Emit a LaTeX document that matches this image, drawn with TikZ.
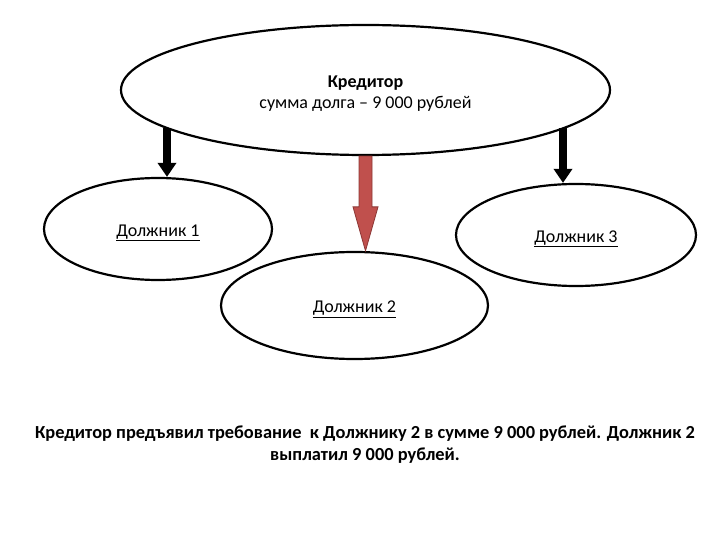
\documentclass[tikz,border=0pt]{standalone}
\usepackage{fontspec}
\setmainfont{Carlito}
\usetikzlibrary{arrows.meta,calc,shapes.geometric}
\definecolor{redfill}{HTML}{C0504D}
\definecolor{redline}{HTML}{8C3836}
\newcommand{\lowered}[1]{\raisebox{-4pt}[\height][\depth]{#1}}
\begin{document}
\begin{tikzpicture}[x=1pt,y=-1pt,
		oval/.style={draw, ellipse, line width=2.2pt, inner sep=0pt, font=\fontsize{18}{21}\selectfont},
		blackarrow/.style={line width=8pt, -{Triangle[length=14pt,width=18pt]}},
		redarrow/.style={fill=redfill, draw=redline, line width=0.8pt}]
			\useasboundingbox (0,0) rectangle (720,540);
			\node[oval, minimum width=489pt, minimum height=130pt] (kred) at (365.5,90) {\lowered{\begin{tabular}{@{}c@{}}\textbf{Кредитор}\\сумма долга – 9 000 рублей\end{tabular}}};
			\node[oval, minimum width=228pt, minimum height=102pt] (d1) at (158,229) {\lowered{\underline{Должник 1}}};
			\node[oval, minimum width=267pt, minimum height=107pt] (d2) at (354.5,305.5) {\lowered{\underline{Должник 2}}};
			\node[oval, minimum width=240pt, minimum height=102pt] (d3) at (576,235) {\lowered{\underline{Должник 3}}};
			\coordinate (a1) at (167,128);
			\coordinate (a3) at (563,128);
			\draw[blackarrow] (a1) -- (a1 |- d1.north);
			\draw[blackarrow] (a3) -- (a3 |- d3.north);
			\coordinate (r0) at (kred.south);
			\coordinate (r1) at (kred.south |- d2.north);
			\filldraw[redarrow] ($(r0)+(-6.5,0)$) -- ($(r1)+(-6.5,-44)$) -- ($(r1)+(-12.5,-44)$) -- (r1) -- ($(r1)+(12.5,-44)$) -- ($(r1)+(6.5,-44)$) -- ($(r0)+(6.5,0)$) -- cycle;
			\node[align=center, font=\fontsize{18.4}{22}\selectfont\bfseries] (txt) at (365,445) {Кредитор предъявил требование \ к Должнику 2 в сумме 9 000 рублей. Должник 2\\выплатил 9 000 рублей.};
		\end{tikzpicture}
\end{document}
